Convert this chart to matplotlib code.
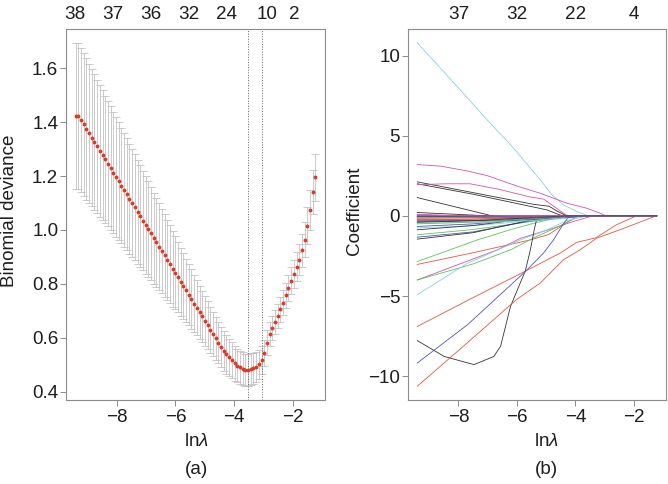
import numpy as np
import matplotlib
matplotlib.use("Agg")
import matplotlib.pyplot as plt

plt.rcParams['font.family'] = ['Liberation Sans', 'DejaVu Sans']
plt.rcParams['mathtext.fontset'] = 'custom'
plt.rcParams['mathtext.rm'] = 'Liberation Sans'
plt.rcParams['mathtext.it'] = 'Liberation Sans:italic'

# ---------------- data: (a) cross-validation curve ----------------
log_lambda = np.linspace(-9.41, -1.22, 90)  # glmnet lambda grid (log scale)

cv_mean = [
    1.424, 1.422, 1.408, 1.392, 1.375, 1.359, 1.343, 1.327, 1.311, 1.294,
    1.278, 1.262, 1.246, 1.230, 1.213, 1.197, 1.181, 1.165, 1.149, 1.132,
    1.116, 1.100, 1.084, 1.068, 1.051, 1.035, 1.019, 1.003, 0.987, 0.970,
    0.954, 0.938, 0.922, 0.906, 0.889, 0.873, 0.857, 0.841, 0.825, 0.808,
    0.792, 0.776, 0.760, 0.744, 0.727, 0.711, 0.695, 0.679, 0.663, 0.646,
    0.630, 0.614, 0.598, 0.582, 0.566, 0.551, 0.538, 0.527, 0.516, 0.506,
    0.497, 0.490, 0.485, 0.481, 0.480, 0.483, 0.486, 0.493, 0.501, 0.517,
    0.544, 0.582, 0.614, 0.637, 0.659, 0.681, 0.705, 0.730, 0.757, 0.784,
    0.811, 0.838, 0.863, 0.890, 0.924, 0.964, 1.016, 1.075, 1.141, 1.195,
]
cv_se = [
    0.271, 0.271, 0.268, 0.265, 0.262, 0.258, 0.255, 0.251, 0.247, 0.244,
    0.240, 0.237, 0.233, 0.229, 0.226, 0.222, 0.219, 0.215, 0.212, 0.208,
    0.204, 0.201, 0.197, 0.193, 0.189, 0.185, 0.181, 0.177, 0.173, 0.169,
    0.165, 0.161, 0.157, 0.153, 0.149, 0.145, 0.141, 0.136, 0.131, 0.126,
    0.122, 0.118, 0.114, 0.110, 0.106, 0.102, 0.098, 0.095, 0.092, 0.089,
    0.086, 0.083, 0.080, 0.077, 0.075, 0.073, 0.071, 0.069, 0.067, 0.065,
    0.063, 0.062, 0.061, 0.060, 0.060, 0.059, 0.058, 0.056, 0.054, 0.052,
    0.049, 0.047, 0.045, 0.044, 0.044, 0.044, 0.045, 0.046, 0.047, 0.048,
    0.050, 0.052, 0.054, 0.057, 0.060, 0.064, 0.069, 0.075, 0.081, 0.087,
]
idx_min, idx_1se = 64, 69

cv_top_pos = [-9.44, -8.14, -6.83, -5.54, -4.24, -2.88, -1.93]
cv_top_lab = ['38', '37', '36', '32', '24', '10', '2']

# ---------------- data: (b) coefficient paths ----------------
path_end = -1.22
coef_top_pos = [-8, -6, -4, -2]
coef_top_lab = ['37', '32', '22', '4']

K, R, G, B, C, M = '#333333', '#e2583f', '#5cc45c', '#5252b8', '#86d3de', '#d452b8'

coef_x = [
    [-9.41, -8.0, -7.0, -6.16, -5.2, -4.8, -4.41, -3.95, -3.56],
    [-9.41, -8.6, -7.7, -7.0, -6.3, -5.88, -5.2, -4.29, -3.62, -3.16, -2.96],
    [-9.41, -7.5, -5.43, -4.9, -4.63, -4.3],
    [-9.41, -7.5, -5.43, -4.97, -4.45],
    [-9.41, -8.4, -7.6, -6.6, -5.6, -5.08, -4.41, -4.25],
    [-9.41, -6.85],
    [-9.41, -6.96],
    [-9.41, -7.35, -6.2, -5.4, -4.7, -4.3],
    [-9.41, -7.5, -5.54, -4.9, -4.4, -3.9],
    [-9.41, -6.67, -5.88, -4.75, -4.07, -3.4],
    [-9.41, -7.5, -6.22, -5.4, -4.5, -3.9],
    [-9.41, -7.69, -6.5, -5.88, -5.0, -4.3, -3.6],
    [-9.41, -7.5, -5.71, -4.5, -3.95, -3.3, -2.6, -1.91],
    [-9.41, -8.49, -7.47, -6.79, -6.56, -6.22, -5.71, -5.54, -5.4, -5.3],
    [-9.41, -7.69, -5.71, -5.08, -4.75, -4.41, -4.2],
    [-9.41, -8.0, -6.0, -5.2, -4.41, -3.84, -3.27, -2.48, -1.23],
    [-9.41, -7.5, -5.5, -4.6, -3.9],
    [-9.41, -7.5, -5.5, -4.6, -3.5],
    [-9.41, -7.5, -5.5, -4.8, -4.5],
    [-9.41, -7.5, -5.5, -4.6, -3.9],
    [-9.41, -7.5, -5.5, -4.7, -4.2],
    [-9.41, -7.5, -5.5, -4.9, -4.55],
    [-9.41, -8.5],
    [-9.41, -7.0, -5.5, -4.4],
    [-9.41, -7.2, -5.3, -4.2, -3.7],
    [-9.41, -7.0, -5.5, -4.5, -3.9],
    [-9.41, -7.5, -6.0, -5.0],
    [-9.41, -7.0],
    [-9.41, -7.5, -6.5],
    [-9.41, -7.0, -5.5, -4.4, -3.8],
    [-9.41, -7.0, -5.5, -4.3, -3.6],
    [-9.41, -7.5, -6.0, -5.6],
    [-9.41, -7.0, -5.5, -4.6, -4.1],
    [-9.41, -8.0, -6.5, -5.0, -4.0],
    [-9.41, -7.8],
    [-9.41, -7.0, -5.0, -3.3],
    [-9.41, -7.5, -5.5, -4.3],
    [-9.41, -7.0, -5.0, -4.0, -3.2],
]
coef_y = [
    [10.8, 7.98, 5.95, 4.32, 2.24, 1.31, 0.69, 0.27, 0.0],
    [3.2, 3.1, 2.8, 2.5, 2.05, 1.79, 1.41, 0.79, 0.48, 0.17, 0.0],
    [2.12, 1.45, 0.72, 0.6, 0.3, 0.0],
    [2.0, 1.35, 0.55, 0.37, 0.0],
    [1.95, 2.0, 2.0, 1.65, 1.2, 1.04, 0.17, 0.0],
    [1.14, 0.0],
    [0.21, 0.0],
    [-2.85, -1.5, -0.85, -0.45, -0.15, 0.0],
    [-3.03, -2.3, -1.5, -1.15, -0.55, 0.0],
    [-4.0, -2.12, -1.4, -0.77, -0.35, 0.0],
    [-4.0, -3.0, -2.12, -1.35, -0.6, 0.0],
    [-4.92, -2.95, -2.0, -1.5, -0.9, -0.3, 0.0],
    [-6.9, -5.1, -3.45, -2.3, -1.65, -1.37, -0.56, 0.0],
    [-7.78, -8.77, -9.28, -8.77, -8.14, -5.65, -3.41, -2.12, -0.8, 0.0],
    [-9.18, -6.79, -3.47, -2.3, -1.5, -0.5, 0.0],
    [-10.63, -8.4, -5.2, -4.19, -2.74, -2.12, -1.39, -0.87, 0.0],
    [-0.66, -0.5, -0.2, -0.1, 0.0],
    [-0.75, -0.62, -0.3, -0.2, 0.0],
    [-0.87, -0.6, -0.15, -0.08, 0.0],
    [-1.18, -0.85, -0.35, -0.15, 0.0],
    [-1.33, -1.0, -0.3, -0.15, 0.0],
    [-1.45, -1.05, -0.25, -0.1, 0.0],
    [0.06, 0.0],
    [0.02, -0.05, -0.1, 0.0],
    [-0.02, -0.04, -0.15, -0.1, 0.0],
    [-0.08, -0.1, -0.2, -0.1, 0.0],
    [-0.22, -0.2, -0.12, 0.0],
    [-0.05, 0.0],
    [-0.12, -0.08, 0.0],
    [-0.3, -0.28, -0.2, -0.1, 0.0],
    [-0.35, -0.3, -0.25, -0.08, 0.0],
    [-0.15, -0.12, -0.05, 0.0],
    [-0.45, -0.4, -0.3, -0.15, 0.0],
    [-0.5, -0.42, -0.3, -0.12, 0.0],
    [0.1, 0.0],
    [-0.25, -0.2, -0.1, 0.0],
    [-0.4, -0.3, -0.12, 0.0],
    [-0.03, -0.06, -0.08, -0.04, 0.0],
]
coef_col = [C, M, K, K, M, K, K, G, R, M, G, C, R, K, B, R,
            B, C, K, G, B, K, B, M, B, C, R, K, G, B, B, R, C, G, M, R, K, B]

# ---------------- styling helpers ----------------
SPINE = '#8c8c8c'
TXT = '#1e1e1e'
FS = 13.6


def style_axes(ax):
    for s in ax.spines.values():
        s.set_color(SPINE)
        s.set_linewidth(0.8)
    ax.tick_params(direction='out', length=4.3, width=0.7, color=SPINE,
                   labelsize=FS, labelcolor=TXT)
    ax.tick_params(axis='x', pad=2.4)
    ax.tick_params(axis='y', pad=1.2)


fig = plt.figure(figsize=(6.68, 4.84), dpi=100)
W, H = 668.0, 484.0
ax1 = fig.add_axes([66 / W, 84 / H, 259 / W, 371 / H])
ax2 = fig.add_axes([407.7 / W, 84 / H, 258.5 / W, 371 / H])

# ---------------- (a) ----------------
ax1.errorbar(log_lambda, cv_mean, yerr=cv_se, fmt='none', ecolor='#c2c2c2',
             elinewidth=0.6, capsize=3.2, capthick=0.6, zorder=1)
ax1.plot(log_lambda, cv_mean, 'o', color='#dc3a28', ms=2.8, mec='none', zorder=3)
ax1.axvline(log_lambda[idx_min], color='#666666', ls=':', lw=0.7, zorder=2)
ax1.axvline(log_lambda[idx_1se], color='#666666', ls=':', lw=0.7, zorder=2)

lo = min(m - s for m, s in zip(cv_mean, cv_se))
hi = max(m + s for m, s in zip(cv_mean, cv_se))
xr = log_lambda[-1] - log_lambda[0]
ax1.set_xlim(log_lambda[0] - 0.04 * xr, log_lambda[-1] + 0.04 * xr)
ax1.set_ylim(lo - 0.04 * (hi - lo), hi + 0.04 * (hi - lo))
ax1.set_xticks([-8, -6, -4, -2])
ax1.set_yticks([0.4, 0.6, 0.8, 1.0, 1.2, 1.4, 1.6])
ax1.set_yticklabels(['0.4', '0.6', '0.8', '1.0', '1.2', '1.4', '1.6'])
style_axes(ax1)
for p, lab in zip(cv_top_pos, cv_top_lab):
    ax1.text(p, 1.027, lab, transform=ax1.get_xaxis_transform(), ha='center',
             va='baseline', fontsize=FS, color=TXT)

# ---------------- (b) ----------------
for xs, ys, col in zip(coef_x, coef_y, coef_col):
    xs = list(xs) + [path_end]
    ys = list(ys) + [0.0]
    ax2.plot(xs, ys, color=col, lw=0.6)

ymin = min(min(y) for y in coef_y)
ymax = max(max(y) for y in coef_y)
ax2.set_xlim(log_lambda[0] - 0.04 * xr, log_lambda[-1] + 0.04 * xr)
ax2.set_ylim(ymin - 0.04 * (ymax - ymin), ymax + 0.04 * (ymax - ymin))
ax2.set_xticks([-8, -6, -4, -2])
ax2.set_yticks([-10, -5, 0, 5, 10])
style_axes(ax2)
for p, lab in zip(coef_top_pos, coef_top_lab):
    ax2.text(p, 1.027, lab, transform=ax2.get_xaxis_transform(), ha='center',
             va='baseline', fontsize=FS, color=TXT)

# ---------------- labels ----------------
fig.text(10 / W, 1 - 211 / H, 'Binomial deviance', rotation=90, ha='center',
         va='center', fontsize=FS, color=TXT)
fig.text(354 / W, 1 - 211 / H, 'Coefficient', rotation=90, ha='center',
         va='center', fontsize=FS, color=TXT)
fig.text(196.7 / W, 1 - 441.7 / H, r'ln$\lambda$', ha='center', va='center',
         fontsize=FS, color=TXT)
fig.text(196.7 / W, 1 - 470 / H, '(a)', ha='center', va='center',
         fontsize=FS, color=TXT)
fig.text(546 / W, 1 - 441.7 / H, r'ln$\lambda$', ha='center', va='center',
         fontsize=FS, color=TXT)
fig.text(546 / W, 1 - 470 / H, '(b)', ha='center', va='center',
         fontsize=FS, color=TXT)

fig.savefig('out.png', dpi=100)
